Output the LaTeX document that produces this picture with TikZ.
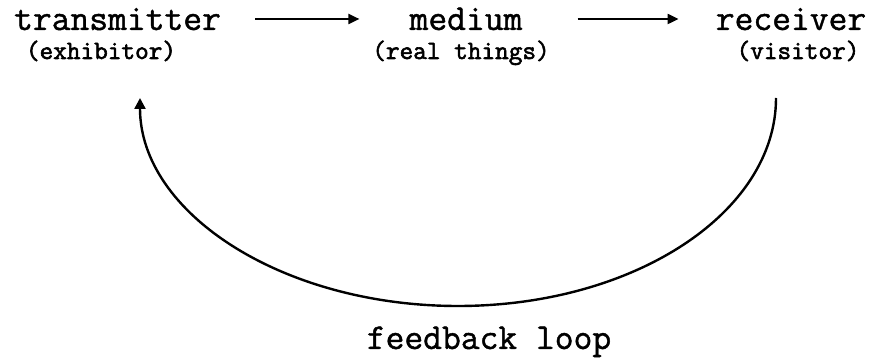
\documentclass[tikz,border=0pt]{standalone}
\usepackage{fontspec}
\usetikzlibrary{arrows.meta}
\newfontfamily\bigmono[FakeBold=1.2]{Latin Modern Mono}
\newfontfamily\smallmono[FakeBold=2.2]{Latin Modern Mono}
\tikzset{
  big/.style={inner sep=0pt, font=\bigmono\fontsize{36.5}{40}\selectfont, anchor=base},
  small/.style={inner sep=0pt, font=\smallmono\fontsize{26.5}{30}\selectfont, anchor=base},
  flow/.style={line width=2pt, -{Triangle[length=11pt,width=10pt]}},
  loop/.style={line width=2.4pt, -{Triangle[length=11pt,width=11pt]}}
}
\begin{document}
\begin{tikzpicture}[x=1pt,y=1pt]
  \useasboundingbox (0,0) rectangle (869,358);
  % top row: the three stages
  \node[big] (tr) at (117.5,328) {transmitter};
  \node[big] (md) at (466,328) {medium};
  \node[big] (rc) at (791,328) {receiver};
  % their glosses
  \node[small] (ex) at (101,299) {(exhibitor)};
  \node[small] (rt) at (461,299) {(real things)};
  \node[small] (vi) at (798,299) {(visitor)};
  % forward arrows
  \draw[flow] ([shift={(34pt,11pt)}]tr.base east) -- ([shift={(-50pt,11pt)}]md.base west);
  \draw[flow] ([shift={(55pt,11pt)}]md.base east) -- ([shift={(-37pt,11pt)}]rc.base west);
  % feedback loop from receiver back to transmitter
  \coordinate (fbR) at (776,260);
  \draw[loop] (fbR) arc[start angle=0, end angle=-180, x radius=318, y radius=208];
  \node[big] (fb) at (489,9) {feedback loop};
\end{tikzpicture}
\end{document}
